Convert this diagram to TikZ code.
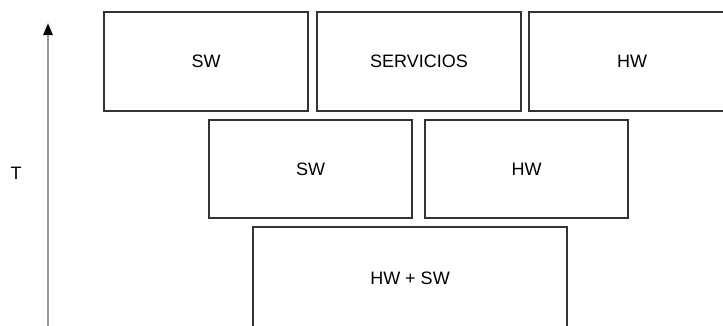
\documentclass[tikz,border=0pt]{standalone}
\usepackage{fontspec}
\setmainfont{Liberation Sans}
\usetikzlibrary{arrows.meta}
\definecolor{boxline}{HTML}{333333}
\definecolor{axisgray}{HTML}{999999}
\begin{document}
\begin{tikzpicture}[x=1pt,y=-1pt,
  box/.style={draw=boxline, line width=1.5pt, rectangle, inner sep=0pt,
    font=\fontsize{18}{21}\selectfont, text=black},
  lbl/.style={font=\fontsize{18}{21}\selectfont, text=black, inner sep=0pt}]
\useasboundingbox (0,0) rectangle (723,325);
\clip (0,0) rectangle (723,325);
\fill[white] (0,0) rectangle (723,325);
% top row
\node[box, minimum width=204pt, minimum height=99pt] (sw1) at (206,61.5) {SW};
\node[box, minimum width=204pt, minimum height=99pt] (serv) at (419,61.5) {SERVICIOS};
\node[box, minimum width=206pt, minimum height=99pt] (hw1) at (632,61.5) {HW};
% middle row
\node[box, minimum width=203pt, minimum height=98pt] (sw2) at (310.5,169) {SW};
\node[box, minimum width=203pt, minimum height=98pt] (hw2) at (526.5,169) {HW};
% bottom
\node[box, minimum width=314pt, minimum height=102pt] (hwsw) at (410,278) {HW + SW};
% axis
\coordinate (abot) at (48,330);
\coordinate (atop) at (48,23);
\draw[axisgray, line width=2.5pt, -{Triangle[length=12pt,width=9pt,color=black]}] (abot) -- (atop);
\node[lbl] (t) at (16,173) {T};
\end{tikzpicture}
\end{document}
